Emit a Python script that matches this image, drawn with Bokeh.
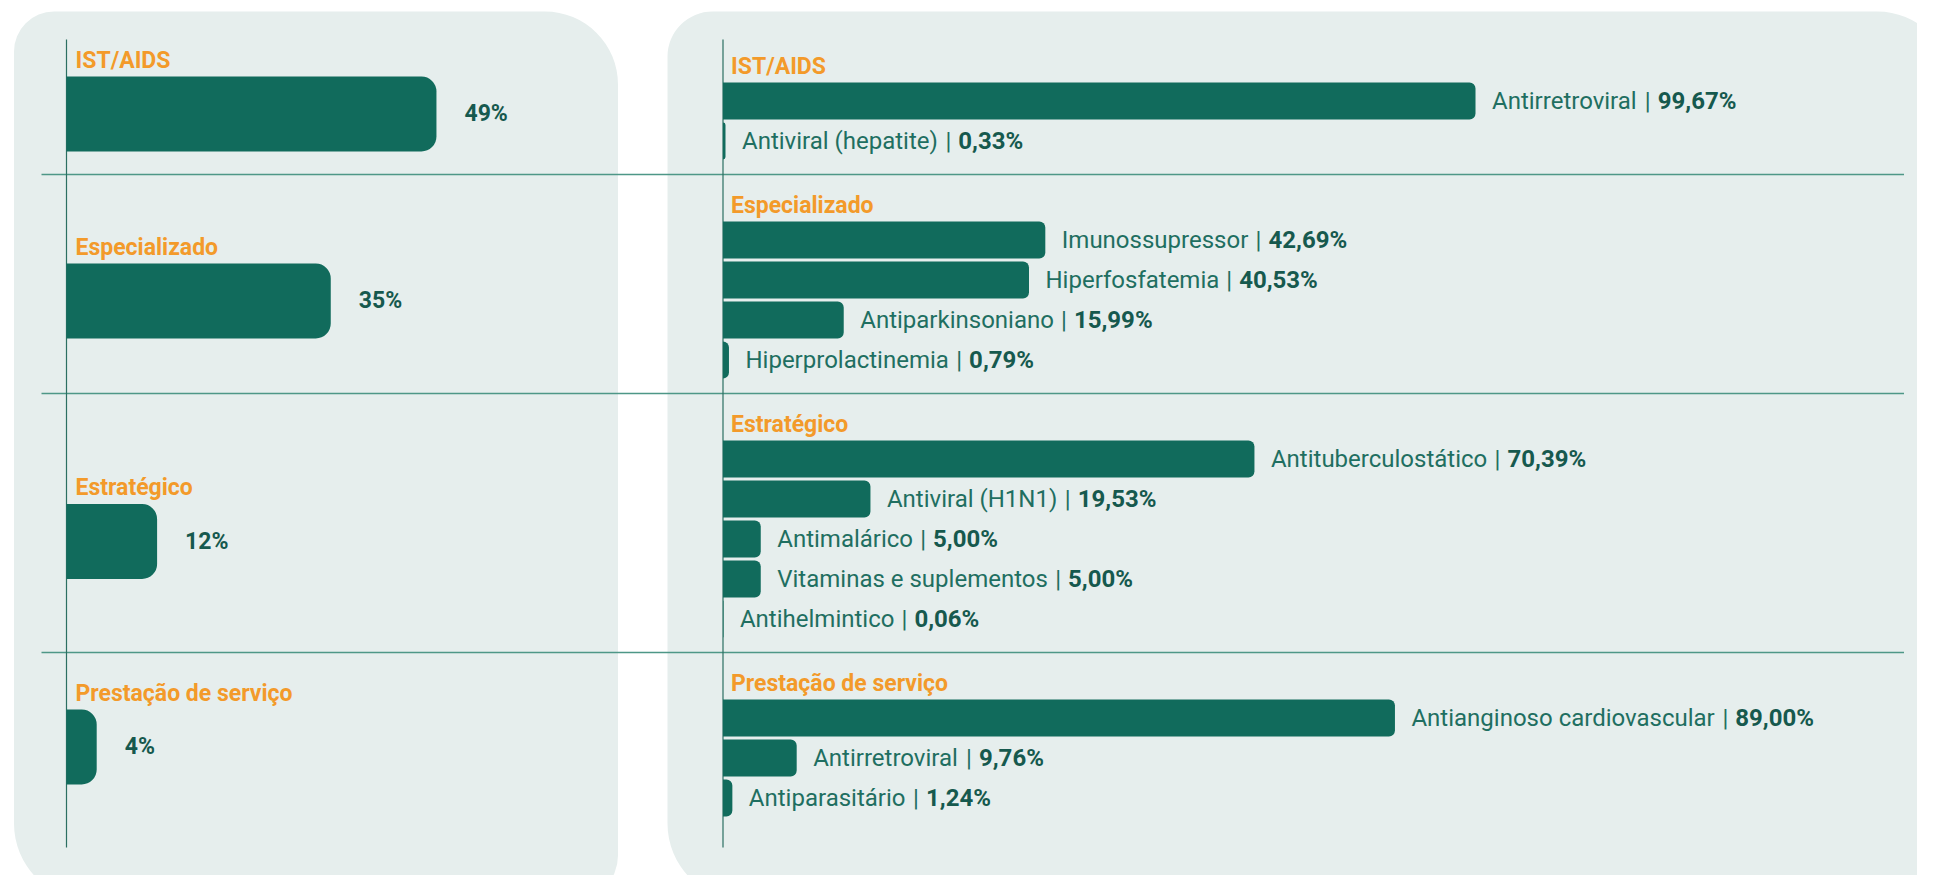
import struct, glob, os
from bokeh.plotting import figure
from bokeh.models import Range1d, ColumnDataSource
from bokeh.core.properties import value
from bokeh.embed import file_html
from bokeh.resources import INLINE

# ---------------- DATA ----------------
groups = ["IST/AIDS", "Especializado", "Estratégico", "Prestação de serviço"]
group_share = [49, 35, 12, 4]

ist_labels = ["Antirretroviral", "Antiviral (hepatite)"]
ist_values = [99.67, 0.33]
esp_labels = ["Imunossupressor", "Hiperfosfatemia", "Antiparkinsoniano", "Hiperprolactinemia"]
esp_values = [42.69, 40.53, 15.99, 0.79]
est_labels = ["Antituberculostático", "Antiviral (H1N1)", "Antimalárico",
              "Vitaminas e suplementos", "Antihelmintico"]
est_values = [70.39, 19.53, 5.00, 5.00, 0.06]
pre_labels = ["Antianginoso cardiovascular", "Antirretroviral", "Antiparasitário"]
pre_values = [89.00, 9.76, 1.24]

group_labels = [ist_labels, esp_labels, est_labels, pre_labels]
group_values = [ist_values, esp_values, est_values, pre_values]

# ---------------- STYLE / LAYOUT ----------------
W, H = 1917, 875
FONT = "Roboto"
BG = "#E6EEED"
BAR = "#116B5C"
ORANGE = "#F39A2A"
TXT = "#1F6F61"
VALTXT = "#16594E"
SEP = "#4E9787"
AXIS = "#2B6F62"

PX = 7.55               # pixels per percentage point (both charts)
LEFT_AXIS_X = 66
RIGHT_AXIS_X = 722.5
AXIS_TOP, AXIS_BOTTOM = 39, 847
FIRST_CENTER = 100.5
ROW_PITCH = 40
GROUP_STEP = 99
BAR_H = 37
LEFT_BAR_H = 75
LEFT_NUDGE = [-7, 1, 2.5, -11]
NAME_SIZE = 24
TEXT_DY = -8.5          # renderer baseline correction
GAP_BAR = 10            # name end -> "|"
GAP_VAL = 20            # name end -> bold value


# ------------- text measurement (font metrics) -------------
FALLBACK = {' ': 507, '(': 699, ')': 712, 'A': 1336, 'H': 1428, 'I': 557, 'N': 1428,
            'V': 1303, 'a': 1088, 'b': 1122, 'c': 1046, 'd': 1128, 'e': 1058, 'f': 709,
            'g': 1123, 'h': 1103, 'i': 496, 'k': 1015, 'l': 496, 'm': 1751, 'n': 1105,
            'o': 1140, 'p': 1122, 'r': 678, 's': 1032, 't': 654, 'u': 1103, 'v': 968,
            'á': 1088, 'ç': 1046, '1': 1150}


def fallback_width(s, size):
    return sum(FALLBACK.get(ch, 1100) for ch in s) * size / 2048.0


def load_measure(path):
    data = open(path, 'rb').read()
    off0 = 0
    if data[:4] == b'ttcf':
        off0 = struct.unpack('>I', data[12:16])[0]
    ntab = struct.unpack('>H', data[off0 + 4:off0 + 6])[0]
    tables = {}
    for i in range(ntab):
        rec = off0 + 12 + 16 * i
        tag = data[rec:rec + 4].decode('latin1')
        _, toff, tlen = struct.unpack('>III', data[rec + 4:rec + 16])
        tables[tag] = toff
    head = tables['head']
    upem = struct.unpack('>H', data[head + 18:head + 20])[0]
    hhea = tables['hhea']
    nhm = struct.unpack('>H', data[hhea + 34:hhea + 36])[0]
    hm = tables['hmtx']
    adv = [struct.unpack('>H', data[hm + 4 * i:hm + 4 * i + 2])[0] for i in range(nhm)]
    cm = tables['cmap']
    n = struct.unpack('>H', data[cm + 2:cm + 4])[0]
    sub = None
    for i in range(n):
        pid, eid, so = struct.unpack('>HHI', data[cm + 4 + 8 * i:cm + 12 + 8 * i])
        fmt = struct.unpack('>H', data[cm + so:cm + so + 2])[0]
        if fmt == 4 and pid in (0, 3):
            sub = cm + so
            break
    segx2 = struct.unpack('>H', data[sub + 6:sub + 8])[0]
    seg = segx2 // 2
    ends = struct.unpack('>%dH' % seg, data[sub + 14:sub + 14 + segx2])
    so_ = sub + 16 + segx2
    starts = struct.unpack('>%dH' % seg, data[so_:so_ + segx2])
    do_ = so_ + segx2
    deltas = struct.unpack('>%dh' % seg, data[do_:do_ + segx2])
    ro_ = do_ + segx2
    ros = struct.unpack('>%dH' % seg, data[ro_:ro_ + segx2])

    def gid(c):
        for k in range(seg):
            if ends[k] >= c:
                if starts[k] > c:
                    return 0
                if ros[k] == 0:
                    return (c + deltas[k]) & 0xFFFF
                addr = ro_ + 2 * k + ros[k] + 2 * (c - starts[k])
                g = struct.unpack('>H', data[addr:addr + 2])[0]
                return (g + deltas[k]) & 0xFFFF if g else 0
        return 0

    def measure(s, size):
        tot = 0
        for ch in s:
            g = gid(ord(ch))
            tot += adv[min(g, nhm - 1)]
        return tot * size / float(upem)
    return measure


measure = fallback_width
try:
    cands = []
    for d in ["/usr/share/fonts", "/usr/local/share/fonts", os.path.expanduser("~/.fonts"),
              os.path.expanduser("~/.local/share/fonts")]:
        cands += glob.glob(os.path.join(d, "**", "Roboto-Regular.ttf"), recursive=True)
    if not cands:
        for d in ["/usr/share/fonts", "/usr/local/share/fonts"]:
            cands += [f for f in glob.glob(os.path.join(d, "**", "Roboto*.ttf"), recursive=True)
                      if "Italic" not in f and "Condensed" not in f and "Mono" not in f
                      and "Slab" not in f]
    if cands:
        measure = load_measure(sorted(cands, key=len)[0])
except Exception:
    measure = fallback_width

# ---------------- figure ----------------
p = figure(width=W, height=H, output_backend="svg", toolbar_location=None,
           x_range=Range1d(0, W), y_range=Range1d(H, 0),
           x_axis_type=None, y_axis_type=None, min_border=0,
           background_fill_color="white", border_fill_color="white")
p.outline_line_color = None
p.grid.visible = False

ls = -LEFT_AXIS_X / PX
rs = -RIGHT_AXIS_X / PX
p.extra_x_ranges = {"left": Range1d(ls, ls + W / PX), "right": Range1d(rs, rs + W / PX)}

# panels
p.quad(left=[13.5], right=[617.5], top=[11], bottom=[900], fill_color=BG, line_color=None,
       border_radius=(40, 73, 45, 77))
p.quad(left=[667], right=[1950], top=[11], bottom=[900], fill_color=BG, line_color=None,
       border_radius=(45, 73, 45, 77))

# layout of rows
right_rows = dict(y=[], v=[], name=[], valtxt=[], off_name=[], off_bar=[], off_val=[])
seps, head_y, left_centers = [], [], []
c = FIRST_CENTER
for gi, (labs, vals) in enumerate(zip(group_labels, group_values)):
    cs = [c + ROW_PITCH * i for i in range(len(vals))]
    head_y.append(cs[0] - 26.5 + TEXT_DY)
    left_centers.append(sum(cs) / len(cs) + LEFT_NUDGE[gi])
    for yy, lab, v in zip(cs, labs, vals):
        w = measure(lab, NAME_SIZE)
        right_rows["y"].append(yy)
        right_rows["v"].append(v)
        right_rows["name"].append(lab)
        right_rows["valtxt"].append(("%.2f" % v).replace(".", ",") + "%")
        right_rows["off_name"].append(16.5)
        right_rows["off_bar"].append(16.5 + w + GAP_BAR)
        right_rows["off_val"].append(16.5 + w + GAP_VAL)
    if gi < len(group_values) - 1:
        seps.append(cs[-1] + 33.5)
    c = cs[-1] + GROUP_STEP

# separators and axis lines
p.segment(x0=[41] * len(seps), x1=[1903.5] * len(seps), y0=seps, y1=seps,
          line_color=SEP, line_width=1.5)
p.segment(x0=[LEFT_AXIS_X, RIGHT_AXIS_X], x1=[LEFT_AXIS_X, RIGHT_AXIS_X],
          y0=[AXIS_TOP, AXIS_TOP], y1=[AXIS_BOTTOM, AXIS_BOTTOM], line_color=AXIS, line_width=1.2)

# left chart
lsrc = ColumnDataSource(dict(
    y=left_centers, v=group_share,
    vt=["%d%%" % v for v in group_share],
    ty=[yc + 8.2 + TEXT_DY for yc in left_centers],
    hy=[yc - LEFT_BAR_H / 2 - 8 + TEXT_DY for yc in left_centers],
    hx=[LEFT_AXIS_X + 9] * len(groups),
    g=groups))
p.hbar(y="y", left=0, right="v", height=LEFT_BAR_H, source=lsrc, x_range_name="left",
       fill_color=BAR, line_color=None, border_radius=(0, 15, 15, 0))
p.text(x="v", y="ty", text="vt", source=lsrc, x_range_name="left", x_offset=28,
       text_font=value(FONT), text_font_style="bold", text_font_size="23px",
       text_color=VALTXT, text_baseline="alphabetic", text_align="left")
p.text(x="hx", y="hy", text="g", source=lsrc, text_font=value(FONT), text_font_style="bold",
       text_font_size="23px", text_color=ORANGE, text_baseline="alphabetic", text_align="left")

# right chart headers
p.text(x=[RIGHT_AXIS_X + 8] * len(groups), y=head_y, text=groups, text_font=value(FONT),
       text_font_style="bold", text_font_size="23px", text_color=ORANGE,
       text_baseline="alphabetic", text_align="left")

# right chart bars
rsrc = ColumnDataSource(dict(right_rows, ty=[yy + 8.5 + TEXT_DY for yy in right_rows["y"]],
                             bar=["|"] * len(right_rows["y"])))
p.hbar(y="y", left=0, right="v", height=BAR_H, source=rsrc, x_range_name="right",
       fill_color=BAR, line_color=None, border_radius=(0, 6, 6, 0))
p.text(x="v", y="ty", text="name", source=rsrc, x_range_name="right", x_offset="off_name",
       text_font=value(FONT), text_font_size="%dpx" % NAME_SIZE, text_color=TXT,
       text_baseline="alphabetic", text_align="left")
p.text(x="v", y="ty", text="bar", source=rsrc, x_range_name="right", x_offset="off_bar",
       text_font=value(FONT), text_font_size="%dpx" % NAME_SIZE, text_color=TXT,
       text_baseline="alphabetic", text_align="center")
p.text(x="v", y="ty", text="valtxt", source=rsrc, x_range_name="right", x_offset="off_val",
       text_font=value(FONT), text_font_style="bold", text_font_size="%dpx" % NAME_SIZE,
       text_color=VALTXT, text_baseline="alphabetic", text_align="left")

open("out.html", "w").write(file_html(p, INLINE))
